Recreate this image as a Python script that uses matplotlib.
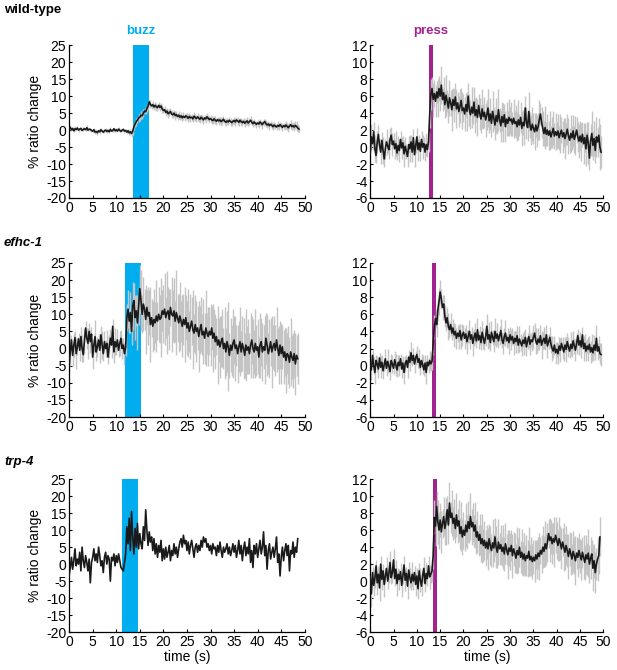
import numpy as np
import matplotlib
matplotlib.use('Agg')
import matplotlib.pyplot as plt
from matplotlib.transforms import blended_transform_factory

plt.rcParams['font.family'] = ['Liberation Sans', 'DejaVu Sans']
plt.rcParams['axes.unicode_minus'] = False

dt = 0.25  # sampling interval of the traces (s)

# ---------------- wild-type, buzz ----------------
wt_buzz_mean = [
    0.3, 0.8, 0.1, 0.5, -0.2, 0.4, 0.2, 0.6, 0.0, 0.3, 0.5, -0.1, 0.2, 0.4, 0.1, 0.7, 0.0, 0.3, 0.2, -0.1,
    -0.3, 0.1, -0.6, -0.4, -0.8, -0.2, -0.5, 0.1, -0.3, -0.6, -0.2, 0.0, -0.4, -0.1, -0.5, 0.2, -0.3, -0.1, 0.4, -0.2,
    0.1, -0.3, 0.3, -0.1, -0.4, 0.0, 0.2, -0.3, -0.1, -0.6, -0.2, -0.8, -0.5, -1.0, -0.3, 1.0, 1.8, 2.5, 3.0, 3.6,
    3.8, 4.4, 4.2, 5.0, 5.6, 5.4, 6.3, 7.0, 8.3, 7.6, 7.1, 7.5, 6.8, 7.3, 6.9, 6.6, 7.3, 6.7, 7.1, 6.2,
    5.8, 6.0, 5.2, 5.6, 4.8, 5.1, 5.5, 4.7, 4.5, 5.0, 4.3, 4.6, 4.0, 4.4, 3.8, 4.2, 3.6, 4.1, 3.7, 4.2,
    3.9, 3.5, 4.0, 3.6, 3.8, 3.3, 4.1, 3.7, 3.4, 3.9, 3.5, 3.2, 3.8, 3.4, 3.0, 3.6, 3.3, 3.9, 3.5, 3.1,
    3.4, 3.0, 2.8, 3.3, 2.9, 2.6, 3.1, 2.7, 3.0, 2.5, 2.8, 3.2, 2.6, 2.3, 2.7, 2.4, 2.9, 2.5, 2.2, 2.6,
    2.8, 2.4, 3.0, 2.7, 2.3, 2.9, 2.5, 2.2, 2.6, 2.0, 2.4, 2.7, 2.1, 2.5, 2.9, 2.3, 1.9, 2.4, 2.0, 1.7,
    2.1, 1.8, 2.4, 2.0, 1.6, 2.2, 2.5, 1.9, 1.5, 1.8, 1.3, 1.7, 1.4, 1.0, 1.5, 1.2, 0.9, 1.4, 1.1, 1.6,
    1.2, 0.8, 1.3, 1.0, 1.5, 1.1, 0.7, 1.2, 1.6, 1.0, 1.3, 0.9, 1.4, 1.1, 0.6, 0.3,
]
wt_buzz_sem = [
    0.4, 0.6, 0.3, 0.5, 0.4, 0.7, 0.3, 0.5, 0.6, 0.4, 0.5, 0.3, 0.6, 0.4, 0.5, 0.7, 0.4, 0.3, 0.5, 0.4,
    0.5, 0.4, 0.6, 0.3, 0.5, 0.4, 0.6, 0.5, 0.3, 0.4, 0.6, 0.5, 0.4, 0.3, 0.5, 0.6, 0.4, 0.5, 0.3, 0.4,
    0.5, 0.4, 0.6, 0.5, 0.3, 0.4, 0.5, 0.6, 0.4, 0.5, 0.6, 0.7, 0.8, 0.9, 1.0, 1.1, 1.0, 1.2, 0.9, 1.1,
    1.0, 1.2, 0.9, 1.1, 1.0, 0.8, 1.1, 1.0, 0.9, 1.2, 1.0, 1.1, 0.8, 1.0, 1.2, 0.9, 1.1, 1.0, 0.8, 1.1,
    0.9, 1.1, 1.0, 0.8, 1.2, 1.0, 0.9, 1.1, 0.8, 1.0, 1.2, 0.9, 1.0, 1.1, 0.8, 1.0, 0.9, 1.2, 1.0, 0.8,
    1.0, 1.2, 0.9, 1.1, 1.0, 0.8, 1.1, 1.0, 0.9, 1.2, 1.0, 1.1, 0.8, 1.0, 1.2, 0.9, 1.1, 1.0, 0.8, 1.1,
    0.9, 1.1, 1.0, 0.8, 1.2, 1.0, 0.9, 1.1, 0.8, 1.0, 1.2, 0.9, 1.0, 1.1, 0.8, 1.0, 0.9, 1.2, 1.0, 0.8,
    1.0, 1.2, 0.9, 1.1, 1.0, 0.8, 1.1, 1.0, 0.9, 1.2, 1.0, 1.1, 0.8, 1.0, 1.2, 0.9, 1.1, 1.0, 0.8, 1.1,
    0.9, 1.1, 1.0, 0.8, 1.2, 1.0, 0.9, 1.1, 0.8, 1.0, 1.2, 0.9, 1.0, 1.1, 0.8, 1.0, 0.9, 1.2, 1.0, 0.8,
    1.0, 1.2, 0.9, 1.1, 1.3, 1.0, 1.2, 0.9, 1.4, 1.1, 1.0, 1.3, 1.2, 1.5, 1.1, 1.0,
]

# ---------------- wild-type, press ----------------
wt_press_mean = [
    -0.8, 1.2, 0.4, 1.8, -0.2, -1.0, 0.6, 1.5, 0.2, -0.6, 0.8, -0.4, -1.4, -0.2, 0.6, 0.1, -0.3, 0.9, 1.4, 0.3,
    0.7, -0.2, 0.4, -0.7, 0.2, -0.4, 0.9, -0.1, 0.5, -0.8, 0.1, -0.5, -1.1, 0.3, -0.2, 0.6, -0.6, 1.1, -0.9, 0.2,
    1.2, -0.3, 0.5, -0.5, 0.9, 0.0, 0.4, -0.6, 0.3, -0.3, 0.6, 3.8, 6.2, 6.9, 5.6, 6.3, 5.4, 6.5, 5.8, 6.9,
    6.0, 7.3, 5.6, 6.4, 5.0, 6.1, 5.4, 4.6, 5.8, 5.2, 4.4, 5.6, 4.9, 5.9, 4.5, 5.2, 4.2, 4.8, 5.5, 4.3,
    4.6, 3.9, 5.0, 4.2, 6.0, 4.4, 3.8, 4.7, 4.0, 5.3, 3.7, 4.4, 3.5, 4.9, 3.9, 3.3, 4.5, 3.6, 4.1, 3.2,
    3.8, 4.6, 3.1, 3.9, 2.8, 4.2, 3.4, 2.6, 3.7, 3.0, 4.4, 3.2, 2.5, 3.6, 2.9, 3.8, 2.4, 3.3, 2.8, 3.5,
    3.1, 3.3, 2.7, 3.4, 2.8, 3.0, 2.4, 3.2, 2.6, 3.5, 2.2, 2.9, 2.5, 4.6, 2.8, 2.3, 4.2, 2.6, 2.0, 2.7,
    2.2, 1.8, 2.6, 1.9, 2.4, 3.2, 3.9, 2.9, 2.2, 1.6, 2.3, 1.5, 2.0, 1.4, 1.9, 1.2, 1.7, 2.2, 1.3, 1.8,
    1.4, 1.9, 1.1, 1.6, 2.0, 1.2, 1.7, 1.0, 1.5, 2.1, 1.3, 0.8, 1.6, 1.1, 1.9, 0.9, 1.4, 2.0, 1.2, 0.7,
    1.3, 0.6, 1.5, 0.4, 1.1, -0.2, 1.4, 0.5, -1.3, 0.8, 1.6, 0.2, 1.0, -0.4, 1.2, 0.6, 1.4, 0.0, -0.6,
]
wt_press_sem = [
    1.0, 1.5, 0.8, 1.2, 1.6, 0.9, 1.3, 1.1, 0.7, 1.4, 1.0, 1.6, 0.9, 1.2, 1.5, 0.8, 1.1, 1.3, 1.0, 1.4,
    0.9, 1.2, 1.5, 0.8, 1.1, 1.4, 1.0, 1.3, 0.8, 1.5, 1.1, 0.9, 1.3, 1.0, 1.6, 0.8, 1.2, 1.0, 1.4, 0.9,
    1.1, 1.3, 0.9, 1.2, 1.0, 1.4, 0.8, 1.1, 1.3, 0.9, 1.2, 1.5, 1.8, 1.4, 2.0, 1.6, 1.9, 1.3, 2.2, 1.5,
    1.8, 2.2, 1.4, 1.9, 1.6, 2.4, 1.3, 1.8, 2.1, 1.5, 2.5, 1.4, 1.9, 1.7, 2.3, 1.3, 1.8, 2.0, 1.5, 2.2,
    1.6, 2.0, 1.4, 2.3, 1.5, 1.9, 1.7, 2.4, 1.3, 1.8, 2.1, 1.5, 2.2, 1.4, 1.9, 1.6, 2.3, 1.5, 1.8, 2.0,
    1.8, 2.2, 1.4, 1.9, 1.6, 2.4, 1.3, 1.8, 2.1, 1.5, 2.5, 1.4, 1.9, 1.7, 2.3, 1.3, 1.8, 2.0, 1.5, 2.2,
    1.6, 2.0, 1.4, 2.3, 1.5, 1.9, 1.7, 2.4, 1.3, 1.8, 2.1, 1.5, 2.2, 1.4, 1.9, 1.6, 2.3, 1.5, 1.8, 2.0,
    1.8, 2.2, 1.4, 1.9, 1.6, 2.4, 1.3, 1.8, 2.1, 1.5, 2.5, 1.4, 1.9, 1.7, 2.3, 1.3, 1.8, 2.0, 1.5, 2.2,
    1.6, 2.0, 1.4, 2.3, 1.5, 1.9, 1.7, 2.4, 1.3, 1.8, 2.1, 1.5, 2.2, 1.4, 1.9, 1.6, 2.3, 1.5, 1.8, 2.0,
    1.8, 2.2, 1.5, 2.4, 1.7, 2.0, 1.6, 2.5, 1.4, 1.9, 2.6, 1.7, 2.1, 1.5, 2.4, 1.8, 2.0, 2.7, 1.9,
]

# ---------------- efhc-1, buzz ----------------
efhc_buzz_mean = [
    -5.0, -1.0, 2.5, -2.0, 1.0, 3.2, -1.5, 0.5, 2.8, -0.5, 3.5, 0.0, -1.8, 2.0, 6.0, 3.0, 1.5, 5.0, 2.0, 4.2,
    -2.5, 1.0, 3.5, -1.0, 0.5, 2.5, -0.5, 4.0, 1.0, -1.5, 2.0, 0.0, 1.5, -2.5, 0.5, 3.0, 1.0, 6.5, -1.0, 2.0,
    0.5, 2.5, -0.5, 1.5, 3.0, 0.0, 1.0, -1.5, 0.5, 9.0, 11.5, 8.0, 10.5, 5.0, 12.5, 14.0, 9.0, 11.0, 7.5, 12.5,
    17.5, 14.0, 10.0, 13.0, 11.5, 8.5, 12.0, 9.5, 10.5, 7.0, 9.0, 6.5, 8.5, 7.5, 9.5, 8.0, 10.0, 8.5, 9.0, 11.0,
    10.0, 11.5, 9.0, 10.5, 11.0, 8.5, 12.0, 10.0, 9.5, 11.0, 8.0, 10.5, 9.0, 7.5, 9.5, 8.0, 6.5, 8.5, 7.0, 9.0,
    6.0, 7.5, 5.0, 6.5, 8.0, 5.5, 4.5, 7.0, 5.0, 6.0, 3.5, 5.5, 7.0, 4.0, 5.0, 3.0, 6.0, 4.5, 3.5, 5.0,
    4.0, 6.0, 3.0, 4.5, 2.0, 3.5, 1.0, 2.5, 0.5, 2.0, 3.0, 0.0, 1.5, -1.0, 2.0, 0.5, -2.0, 1.0, -0.5, 1.5,
    2.5, 0.0, 1.0, -1.5, 0.5, 2.0, -1.0, 1.5, 0.0, -2.0, 1.0, -0.5, 0.5, -1.5, 1.0, 2.5, 0.0, -1.0, 1.5, -0.5,
    0.5, -2.5, 1.0, 2.0, -1.0, 0.5, -0.5, 3.0, 1.0, -1.5, 0.0, 2.0, -1.0, 0.5, 1.5, -0.5, 2.5, 0.0, -2.0, 1.0,
    -1.5, 0.5, -2.5, -1.0, -3.5, -1.5, -2.0, -4.0, -1.0, -2.5, -3.5, -1.5, -4.5, -2.0, -3.0,
]
efhc_buzz_sem = [
    2.5, 4.0, 1.5, 3.0, 3.5, 2.0, 4.5, 2.5, 1.8, 3.2, 2.8, 4.0, 2.2, 3.6, 1.9, 3.0, 4.5, 2.4, 3.3, 2.0,
    3.5, 2.0, 4.8, 2.6, 3.0, 1.8, 3.8, 2.5, 4.2, 2.0, 3.0, 2.6, 4.0, 1.9, 3.4, 2.7, 3.8, 2.2, 3.1, 4.0,
    2.5, 3.2, 2.0, 3.6, 2.4, 3.0, 2.2, 3.4, 2.8, 4.0, 5.5, 3.5, 6.0, 4.0, 7.0, 5.0, 6.5, 4.5, 8.0, 5.5,
    7.0, 9.0, 5.5, 8.0, 6.0, 10.0, 5.0, 8.5, 6.5, 11.0, 5.5, 7.5, 9.0, 6.0, 10.5, 5.5, 8.0, 7.0, 11.5, 6.0,
    8.5, 10.5, 6.0, 12.0, 7.0, 9.0, 5.5, 11.0, 7.5, 9.5, 6.0, 12.5, 7.0, 8.5, 10.0, 6.0, 9.0, 7.5, 11.0, 6.5,
    8.0, 10.0, 6.0, 9.5, 7.0, 11.5, 5.5, 8.5, 9.0, 6.5, 10.5, 7.0, 8.0, 6.0, 9.5, 7.5, 11.0, 6.0, 8.5, 7.0,
    9.0, 6.5, 10.0, 7.0, 8.0, 5.5, 11.5, 6.5, 9.0, 7.5, 8.5, 6.0, 10.5, 7.0, 9.0, 13.0, 6.5, 8.0, 7.5, 10.0,
    7.0, 9.5, 6.0, 8.5, 7.5, 10.0, 6.0, 8.0, 9.0, 6.5, 10.5, 7.0, 8.0, 6.0, 9.5, 7.0, 8.5, 6.5, 10.0, 7.5,
    8.0, 6.0, 9.5, 7.0, 8.5, 6.5, 10.0, 7.5, 9.0, 6.0, 8.5, 7.0, 10.5, 6.5, 8.0, 7.5, 9.5, 6.0, 8.5, 7.0,
    9.0, 6.5, 8.0, 7.0, 9.5, 6.0, 8.5, 7.5, 10.0, 6.5, 8.0, 7.0, 9.0, 6.0, 7.5,
]

# ---------------- efhc-1, press ----------------
efhc_press_mean = [
    0.3, -0.5, 1.2, 0.0, -0.8, 0.6, 0.2, -0.4, 0.9, -0.2, 0.4, -0.6, 0.1, 0.8, -0.3, 0.5, 0.0, -0.7, 0.6, 0.2,
    -0.3, 0.7, 0.1, -0.5, 0.4, 0.0, 0.8, -0.4, 0.3, -0.8, 0.2, 0.6, -0.2, 1.0, 0.4, 1.5, 0.6, 1.2, 0.2, 0.9,
    1.3, 0.4, 0.8, -0.2, 0.6, 0.1, -0.5, 0.3, -0.8, 0.4, 0.0, 0.6, 0.2, 0.5, 2.5, 4.5, 5.5, 4.8, 6.5, 7.5,
    8.6, 7.8, 6.8, 7.2, 5.8, 5.0, 5.6, 4.6, 4.2, 4.8, 3.8, 4.4, 3.6, 4.0, 3.2, 3.8, 3.4, 4.1, 3.0, 3.6,
    3.9, 3.2, 3.7, 2.8, 3.4, 4.0, 3.1, 3.6, 2.6, 3.3, 3.8, 2.9, 4.2, 3.0, 3.5, 2.7, 3.9, 3.2, 2.6, 3.4,
    4.6, 3.1, 3.6, 2.7, 3.9, 3.3, 2.8, 4.0, 3.2, 3.7, 2.9, 3.5, 4.1, 3.0, 2.6, 3.4, 3.8, 2.9, 3.3, 2.7,
    3.6, 3.0, 3.4, 2.6, 3.2, 2.8, 3.5, 2.4, 3.1, 2.7, 2.3, 3.0, 2.6, 3.3, 2.2, 2.9, 3.4, 2.5, 3.0, 2.8,
    3.3, 3.8, 2.9, 2.5, 3.1, 2.7, 3.5, 2.4, 2.9, 3.2, 2.6, 3.6, 2.3, 2.8, 3.3, 2.5, 2.0, 1.7, 2.4, 1.5,
    1.9, 1.4, 2.3, 1.8, 2.6, 2.1, 1.6, 2.4, 1.9, 2.8, 2.2, 1.7, 2.5, 2.0, 2.9, 2.3, 1.8, 2.6, 3.5, 2.4,
    2.9, 2.2, 3.6, 2.0, 2.6, 1.7, 2.3, 1.9, 2.5, 1.6, 2.1, 1.5, 2.4, 1.8, 3.2, 1.7, 2.2, 1.4, 1.3,
]
efhc_press_sem = [
    0.8, 1.2, 0.6, 1.0, 1.4, 0.7, 0.9, 1.1, 0.6, 1.3, 0.8, 1.0, 0.7, 1.2, 0.9, 1.4, 0.6, 1.0, 0.8, 1.1,
    0.7, 1.0, 1.3, 0.8, 0.9, 1.2, 0.6, 1.1, 0.8, 1.4, 0.9, 0.7, 1.2, 0.8, 1.0, 1.3, 0.7, 0.9, 1.1, 0.8,
    1.0, 0.7, 1.2, 0.9, 0.8, 1.1, 0.7, 1.0, 1.3, 0.8, 0.9, 1.1, 0.8, 1.0, 1.2, 1.4, 1.1, 1.5, 1.3, 1.6,
    1.4, 1.2, 1.5, 1.0, 1.3, 0.9, 1.2, 1.6, 1.0, 1.3, 0.8, 1.1, 1.4, 0.9, 1.2, 1.0, 1.5, 0.8, 1.1, 1.3,
    0.9, 1.2, 1.0, 1.4, 0.8, 1.3, 1.1, 0.9, 1.5, 1.0, 1.2, 0.8, 1.4, 1.0, 1.1, 0.9, 1.3, 1.2, 0.8, 1.1,
    1.4, 1.2, 1.5, 1.0, 1.3, 0.9, 1.2, 1.6, 1.0, 1.3, 0.8, 1.1, 1.4, 0.9, 1.2, 1.0, 1.5, 0.8, 1.1, 1.3,
    0.9, 1.2, 1.0, 1.4, 0.8, 1.3, 1.1, 0.9, 1.5, 1.0, 1.2, 0.8, 1.4, 1.0, 1.1, 0.9, 1.3, 1.2, 0.8, 1.1,
    1.4, 1.2, 1.5, 1.0, 1.3, 0.9, 1.2, 1.6, 1.0, 1.3, 0.8, 1.1, 1.4, 0.9, 1.2, 1.0, 1.5, 0.8, 1.1, 1.3,
    0.9, 1.2, 1.0, 1.4, 0.8, 1.3, 1.1, 0.9, 1.5, 1.0, 1.2, 0.8, 1.4, 1.0, 1.1, 0.9, 1.3, 1.2, 0.8, 1.1,
    1.0, 1.3, 0.9, 1.5, 1.1, 1.2, 0.8, 1.4, 1.0, 1.3, 1.6, 0.9, 1.2, 1.1, 1.5, 1.0, 1.3, 1.2, 1.4,
]

# ---------------- trp-4, buzz (no error band) ----------------
trp_buzz_mean = [
    -3.5, -1.0, 2.0, -1.5, 1.0, 4.5, -0.5, 1.5, 0.0, 3.5, -2.0, 5.0, 1.0, -1.0, 2.5, 0.5, -2.0, 1.5, -5.5, 0.5,
    2.0, 4.5, 1.0, 3.0, 0.5, 5.0, 2.5, -0.5, 1.0, -2.5, 2.0, 3.5, 0.0, 2.5, 1.5, -5.0, 2.0, 1.0, 3.0, -0.5,
    2.5, 0.5, 3.0, 1.0, -1.0, -1.5, -2.0, 0.5, 3.0, 11.0, 6.0, 13.5, 4.0, 15.5, 8.0, 3.0, 10.5, 5.0, 12.0, 4.5,
    9.0, 6.0, 4.5, 11.0, 7.0, 16.0, 10.0, 5.5, 9.5, 6.5, 8.0, 4.0, 7.5, 3.0, 6.0, 2.0, 5.5, 3.5, 7.0, 1.0,
    4.5, 1.5, 5.0, 2.0, 3.5, 5.5, 1.0, 4.0, 2.5, 6.0, 3.0, 5.0, 2.0, 4.5, 6.5, 7.5, 5.0, 8.5, 6.0, 7.0,
    4.0, 6.5, 3.0, 5.5, 7.0, 4.5, 2.0, 5.0, 6.0, 3.5, 5.5, 4.0, 7.0, 5.0, 8.0, 6.5, 7.5, 5.0, 6.0, 4.0,
    5.5, 3.0, 6.0, 4.5, 5.0, 2.5, 5.5, 3.5, 6.5, 4.0, 2.0, 5.0, 3.5, 4.5, 6.0, 3.0, 5.0, 2.5, 4.0, 6.0,
    3.5, 5.5, 2.0, 4.0, 7.0, 3.0, 5.5, 1.0, 4.5, 6.5, 2.5, 5.0, 3.0, 7.5, 0.5, 4.0, -1.0, 5.5, 3.0, 6.0,
    2.0, 4.5, 7.0, 3.0, 5.0, 9.5, 2.5, 5.5, -1.5, 4.0, 6.0, 1.5, 3.5, 5.0, 2.0, 4.5, 8.0, 0.5, 3.0, -3.5,
    2.0, 5.0, 1.0, 4.0, 6.0, 2.5, 5.5, -2.0, 4.0, 3.0, 6.5, 2.0, 5.0, 3.5, 7.5,
]

# ---------------- trp-4, press ----------------
trp_press_mean = [
    0.5, -1.5, 1.0, -0.5, 0.3, 1.8, -0.2, 0.8, -0.8, 2.0, 0.2, 1.2, -0.4, 0.6, 1.5, 0.0, 0.9, 2.2, 0.4, 1.0,
    2.5, 0.3, 1.4, -0.3, 0.8, 0.2, 1.1, -0.5, 0.6, 1.9, 0.1, 0.9, -0.6, 1.3, 0.4, -0.2, 0.8, 0.0, 1.0, -0.4,
    0.6, -0.9, 1.2, 0.1, -0.6, 0.7, 1.5, -0.3, 0.9, 0.3, 1.8, 0.5, 0.8, 1.2, 3.0, 7.5, 6.5, 8.8, 7.0, 6.0,
    7.2, 5.8, 6.8, 7.6, 6.2, 7.0, 8.4, 6.6, 9.2, 7.5, 8.0, 6.8, 7.4, 6.2, 7.8, 6.5, 7.1, 5.6, 6.4, 5.2,
    6.0, 5.4, 6.6, 5.8, 7.0, 6.2, 7.6, 6.4, 6.9, 5.9, 6.6, 5.2, 5.8, 4.8, 5.5, 4.4, 5.0, 4.2, 4.8, 3.9,
    4.6, 3.8, 5.0, 4.2, 3.6, 4.5, 3.9, 5.2, 4.0, 3.4, 4.6, 3.8, 4.3, 3.5, 4.0, 3.2, 4.4, 3.7, 3.1, 3.9,
    3.5, 4.2, 3.0, 3.8, 3.3, 2.7, 3.6, 3.1, 4.0, 2.8, 3.4, 2.6, 3.2, 2.4, 3.0, 2.7, 3.5, 2.5, 2.9, 2.3,
    2.8, 2.4, 3.1, 2.6, 3.3, 2.9, 3.6, 3.2, 4.0, 3.5, 4.4, 3.8, 4.6, 5.6, 4.8, 5.2, 4.4, 5.0, 4.6, 5.4,
    4.8, 4.2, 5.0, 4.5, 3.8, 4.6, 4.0, 3.4, 4.2, 3.6, 2.9, 3.8, 3.2, 2.6, 3.5, 3.0, 2.4, 3.3, 2.8, 3.6,
    3.0, 2.5, 3.4, 2.8, 2.2, 3.1, 2.6, 3.3, 2.0, 2.7, 3.2, 1.5, 2.4, 1.0, 2.0, 2.6, 3.0, 5.2,
]
trp_press_sem = [
    1.0, 1.5, 0.8, 1.3, 1.1, 0.7, 1.4, 1.0, 1.6, 0.9, 1.2, 0.8, 1.5, 1.0, 1.3, 0.9, 1.1, 1.4, 0.8, 1.2,
    1.3, 0.9, 1.1, 1.5, 0.8, 1.2, 1.0, 1.4, 0.9, 1.1, 1.3, 0.8, 1.5, 1.0, 1.2, 0.9, 1.4, 1.1, 0.8, 1.3,
    1.0, 1.2, 0.9, 1.4, 1.1, 0.8, 1.3, 1.0, 1.2, 0.9, 1.1, 1.4, 1.0, 1.3, 1.6, 2.0, 2.4, 1.8, 2.6, 2.2,
    2.0, 2.5, 1.7, 2.3, 1.9, 2.8, 1.6, 2.2, 2.5, 1.8, 2.7, 1.9, 2.3, 1.7, 2.6, 2.0, 2.4, 1.8, 2.9, 2.1,
    2.2, 1.8, 2.6, 2.0, 2.4, 1.7, 2.8, 2.1, 2.3, 1.9, 2.7, 2.0, 2.5, 1.8, 2.4, 2.2, 2.9, 1.9, 2.3, 2.1,
    2.0, 2.5, 1.7, 2.3, 1.9, 2.8, 1.6, 2.2, 2.5, 1.8, 2.7, 1.9, 2.3, 1.7, 2.6, 2.0, 2.4, 1.8, 2.9, 2.1,
    2.2, 1.8, 2.6, 2.0, 2.4, 1.7, 2.8, 2.1, 2.3, 1.9, 2.7, 2.0, 2.5, 1.8, 2.4, 2.2, 2.9, 1.9, 2.3, 2.1,
    2.0, 2.5, 1.7, 2.3, 1.9, 2.8, 1.6, 2.2, 2.5, 1.8, 2.7, 1.9, 2.3, 1.7, 2.6, 2.0, 2.4, 1.8, 2.9, 2.1,
    2.2, 1.8, 2.6, 2.0, 2.4, 1.7, 2.8, 2.1, 2.3, 1.9, 2.7, 2.0, 2.5, 1.8, 2.4, 2.2, 2.9, 1.9, 2.3, 2.1,
    2.0, 2.4, 1.8, 2.6, 2.1, 2.3, 1.9, 2.8, 2.2, 2.5, 1.7, 2.7, 2.0, 2.4, 1.9, 2.6, 2.2, 2.3,
]

# ---------------- stimulus windows (s) ----------------
row_labels = ['wild-type', 'efhc-1', 'trp-4']
row_italic = [False, True, True]
buzz_on = [13.5, 11.9, 11.3]
buzz_off = [17.0, 15.3, 14.7]
press_on = [12.5, 13.2, 13.4]
press_off = [13.5, 14.2, 14.4]

buzz_means = [wt_buzz_mean, efhc_buzz_mean, trp_buzz_mean]
buzz_sems = [wt_buzz_sem, efhc_buzz_sem, None]
press_means = [wt_press_mean, efhc_press_mean, trp_press_mean]
press_sems = [wt_press_sem, efhc_press_sem, trp_press_sem]

buzz_yticks = [-20, -15, -10, -5, 0, 5, 10, 15, 20, 25]
press_yticks = [-6, -4, -2, 0, 2, 4, 6, 8, 10, 12]
xticks = [0, 5, 10, 15, 20, 25, 30, 35, 40, 45, 50]

BUZZ_COL = '#00AEEF'
PRESS_COL = '#A2228E'
BAND_COL = '#c4c4c4'
LINE_COL = '#1a1a1a'

fig = plt.figure(figsize=(6.17, 6.70), dpi=100)

left_x, left_w = 0.112, 0.382
right_x, right_w = 0.600, 0.378
row_bottoms = [0.7045, 0.3776, 0.0567]
row_heights = [0.228, 0.230, 0.228]
title_y = [0.985, 0.637, 0.310]

FS = 10


def style_axis(ax, yticks, xlabel):
    ax.set_xlim(0, 50)
    ax.set_ylim(yticks[0], yticks[-1])
    ax.set_xticks(xticks)
    ax.set_yticks(yticks)
    for s in ['top', 'right']:
        ax.spines[s].set_visible(False)
    for s in ['left', 'bottom']:
        ax.spines[s].set_linewidth(0.9)
    ax.tick_params(direction='in', length=2.5, width=0.8, labelsize=FS, pad=2)
    if xlabel:
        ax.set_xlabel('time (s)', fontsize=FS, labelpad=1)


def draw_trace(ax, mean, sem):
    m = np.asarray(mean, dtype=float)
    t = np.arange(len(m)) * dt
    if sem is not None:
        s = np.asarray(sem, dtype=float)
        n = min(len(m), len(s))
        ax.vlines(t[:n], m[:n] - s[:n], m[:n] + s[:n], color=BAND_COL,
                  linewidth=1.0, zorder=2)
    ax.plot(t, m, color=LINE_COL, lw=1.2, zorder=3)


for r in range(3):
    b = row_bottoms[r]
    h = row_heights[r]
    axl = fig.add_axes([left_x, b, left_w, h])
    axr = fig.add_axes([right_x, b, right_w, h])

    axl.axvspan(buzz_on[r], buzz_off[r], color=BUZZ_COL, lw=0, zorder=1)
    draw_trace(axl, buzz_means[r], buzz_sems[r])
    style_axis(axl, buzz_yticks, r == 2)
    axl.set_ylabel('% ratio change', fontsize=FS, labelpad=3)

    axr.axvspan(press_on[r], press_off[r], color=PRESS_COL, lw=0, zorder=1)
    draw_trace(axr, press_means[r], press_sems[r])
    style_axis(axr, press_yticks, r == 2)

    fig.text(0.0065, title_y[r], row_labels[r], fontsize=9.5, fontweight='bold',
             fontstyle='italic' if row_italic[r] else 'normal', ha='left', va='center')

    if r == 0:
        trl = blended_transform_factory(axl.transData, axl.transAxes)
        axl.text((buzz_on[r] + buzz_off[r]) / 2, 1.09, 'buzz', transform=trl,
                 color=BUZZ_COL, fontsize=9.5, fontweight='bold', ha='center', va='center')
        trr = blended_transform_factory(axr.transData, axr.transAxes)
        axr.text((press_on[r] + press_off[r]) / 2, 1.09, 'press', transform=trr,
                 color=PRESS_COL, fontsize=9.5, fontweight='bold', ha='center', va='center')

fig.savefig('out.png', dpi=100)
